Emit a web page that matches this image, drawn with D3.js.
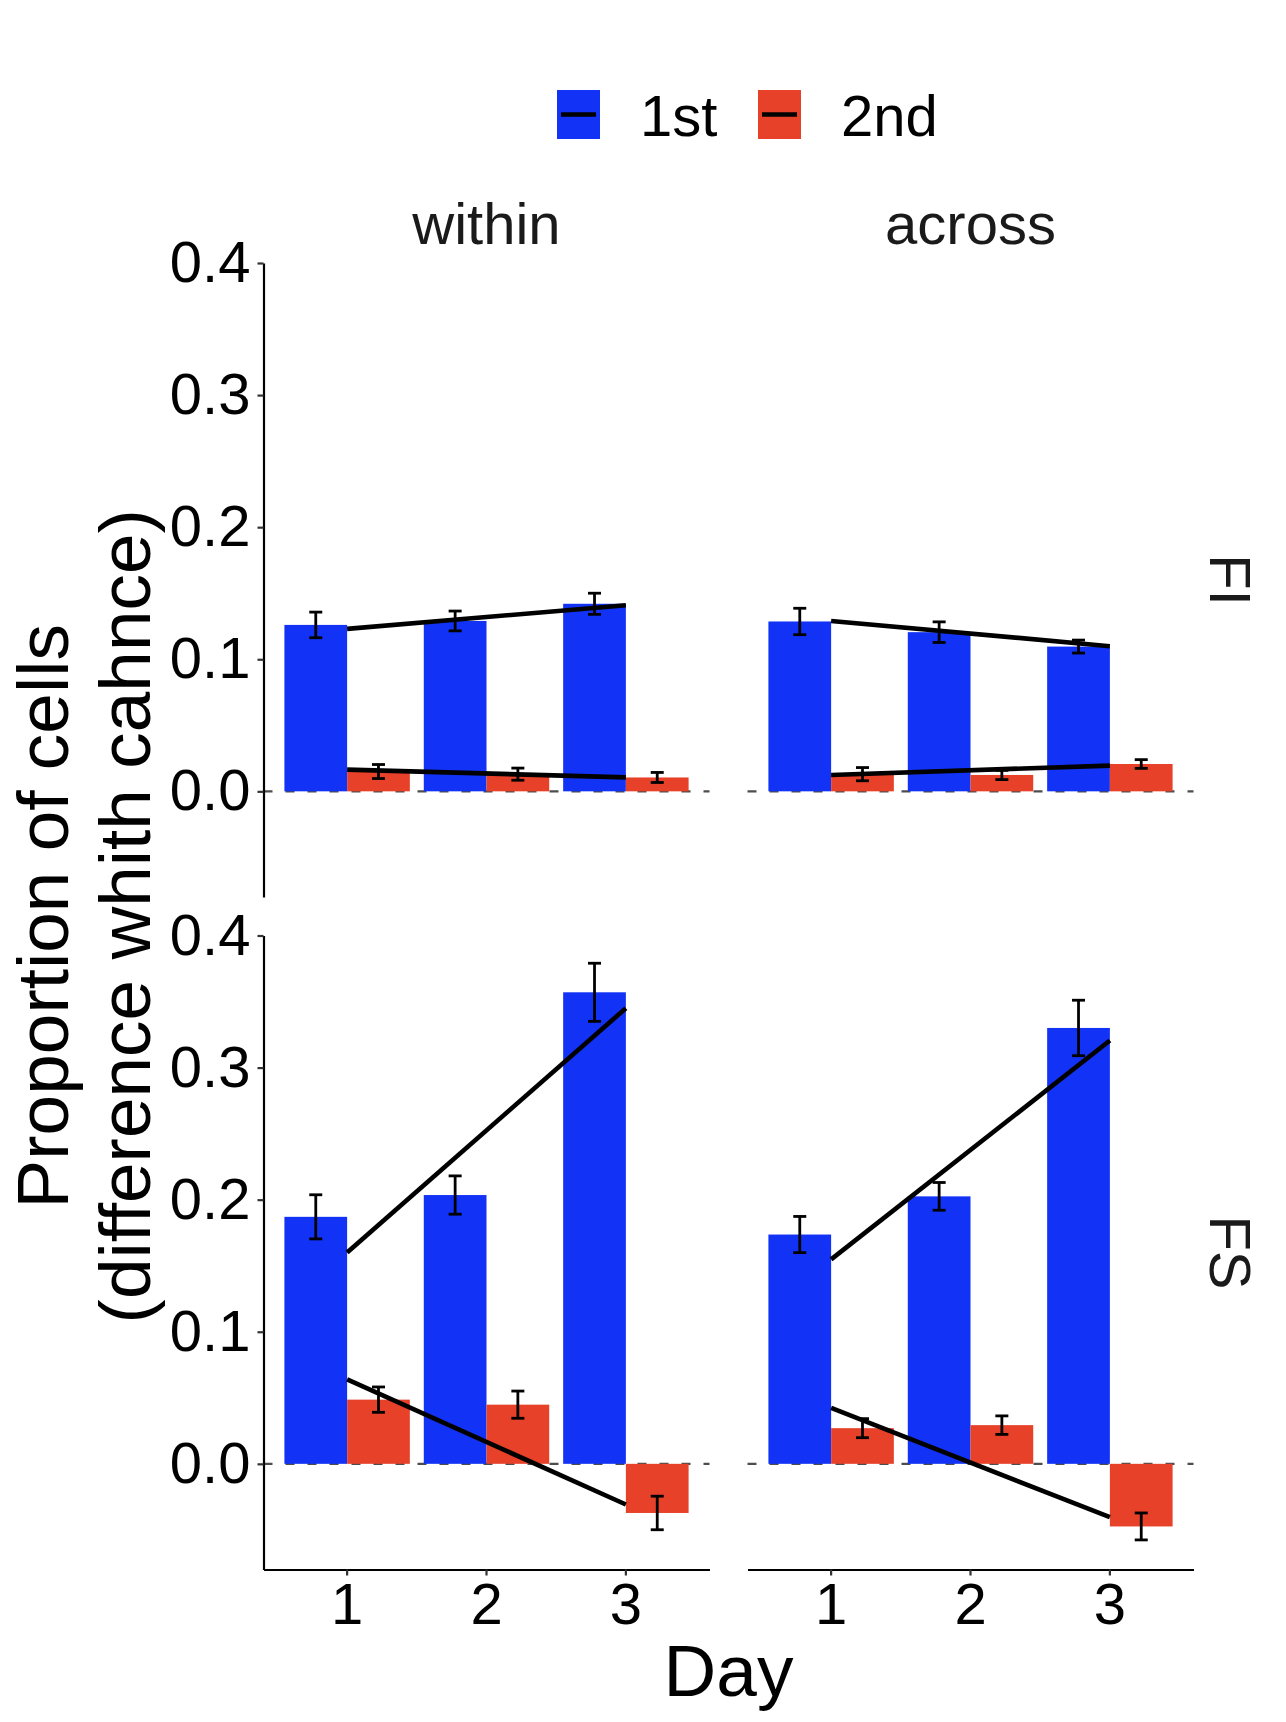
<!DOCTYPE html>
<html>
<head>
<meta charset="utf-8">
<script src="https://cdn.jsdelivr.net/npm/d3@7"></script>
<style>
  body { margin: 0; background: #fff; }
  svg text { font-family: "Liberation Sans", Arial, sans-serif; }
</style>
</head>
<body>
<svg width="1286" height="1722"></svg>
<script>
const days = [1, 2, 3];
const orders = ["1st", "2nd"];
const cols = ["within", "across"];
const rows = ["FI", "FS"];
const yTicks = [0, 0.1, 0.2, 0.3, 0.4];

// bar means and standard errors, per panel and order
const FI_within_1st = [0.126, 0.129, 0.142];
const FI_within_1st_se = [0.0097, 0.0075, 0.008];
const FI_within_2nd = [0.015, 0.013, 0.0105];
const FI_within_2nd_se = [0.0053, 0.0046, 0.0038];
const FI_across_1st = [0.1286, 0.1205, 0.1096];
const FI_across_1st_se = [0.010, 0.0078, 0.0049];
const FI_across_2nd = [0.013, 0.0124, 0.0207];
const FI_across_2nd_se = [0.005, 0.0035, 0.0033];
const FS_within_1st = [0.187, 0.2035, 0.357];
const FS_within_1st_se = [0.0167, 0.0145, 0.022];
const FS_within_2nd = [0.0486, 0.0448, -0.0372];
const FS_within_2nd_se = [0.0096, 0.0103, 0.0127];
const FS_across_1st = [0.1736, 0.2025, 0.33];
const FS_across_1st_se = [0.0137, 0.0105, 0.021];
const FS_across_2nd = [0.027, 0.0293, -0.0474];
const FS_across_2nd_se = [0.0072, 0.007, 0.0102];

// fitted trend, value at day 1 and day 3
const fit_FI_within_1st = [0.123, 0.1409];
const fit_FI_within_2nd = [0.0164, 0.0106];
const fit_FI_across_1st = [0.129, 0.1099];
const fit_FI_across_2nd = [0.0124, 0.0195];
const fit_FS_within_1st = [0.16, 0.345];
const fit_FS_within_2nd = [0.0639, -0.0308];
const fit_FS_across_1st = [0.1548, 0.3205];
const fit_FS_across_2nd = [0.0423, -0.0404];

const means = {
  FI: { within: { "1st": FI_within_1st, "2nd": FI_within_2nd }, across: { "1st": FI_across_1st, "2nd": FI_across_2nd } },
  FS: { within: { "1st": FS_within_1st, "2nd": FS_within_2nd }, across: { "1st": FS_across_1st, "2nd": FS_across_2nd } }
};
const ses = {
  FI: { within: { "1st": FI_within_1st_se, "2nd": FI_within_2nd_se }, across: { "1st": FI_across_1st_se, "2nd": FI_across_2nd_se } },
  FS: { within: { "1st": FS_within_1st_se, "2nd": FS_within_2nd_se }, across: { "1st": FS_across_1st_se, "2nd": FS_across_2nd_se } }
};
const fits = {
  FI: { within: { "1st": fit_FI_within_1st, "2nd": fit_FI_within_2nd }, across: { "1st": fit_FI_across_1st, "2nd": fit_FI_across_2nd } },
  FS: { within: { "1st": fit_FS_within_1st, "2nd": fit_FS_within_2nd }, across: { "1st": fit_FS_across_1st, "2nd": fit_FS_across_2nd } }
};

const color = { "1st": "#1233F6", "2nd": "#E8412A" };

const svg = d3.select("svg");
const panelW = 446, panelH = 634;
const colX = [263.5, 747.5];
const rowY = [263, 935.5];

const y = d3.scaleLinear().domain([-0.08, 0.4]);

rows.forEach((r, ri) => {
  cols.forEach((c, ci) => {
    const x0 = colX[ci], y0 = rowY[ri];
    const g = svg.append("g");
    const x = d3.scaleBand().domain(days).range([x0, x0 + panelW])
      .paddingInner(0.1).paddingOuter(0.15);
    const xo = d3.scaleBand().domain(orders).range([0, x.bandwidth()]);
    const yy = y.copy().range([y0 + panelH, y0]);

    const bars = [];
    orders.forEach(o => days.forEach((d, i) => {
      bars.push({ day: d, order: o, v: means[r][c][o][i], se: ses[r][c][o][i] });
    }));

    // dashed zero line
    g.append("line")
      .attr("x1", x0).attr("x2", x0 + panelW)
      .attr("y1", yy(0)).attr("y2", yy(0))
      .attr("stroke", "#4d4d4d").attr("stroke-width", 2.4)
      .attr("stroke-dasharray", "9,13");

    g.selectAll("rect.bar").data(bars).join("rect")
      .attr("class", "bar")
      .attr("x", d => x(d.day) + xo(d.order))
      .attr("width", xo.bandwidth())
      .attr("y", d => yy(Math.max(0, d.v)))
      .attr("height", d => Math.abs(yy(d.v) - yy(0)))
      .attr("fill", d => color[d.order]);

    const eb = g.selectAll("g.eb").data(bars).join("g").attr("class", "eb")
      .attr("stroke", "#000").attr("stroke-width", 2.8);
    const cx = d => x(d.day) + xo(d.order) + xo.bandwidth() / 2;
    eb.append("line")
      .attr("x1", cx).attr("x2", cx)
      .attr("y1", d => yy(d.v - d.se)).attr("y2", d => yy(d.v + d.se));
    eb.append("line")
      .attr("x1", d => cx(d) - 6.5).attr("x2", d => cx(d) + 6.5)
      .attr("y1", d => yy(d.v + d.se)).attr("y2", d => yy(d.v + d.se));
    eb.append("line")
      .attr("x1", d => cx(d) - 6.5).attr("x2", d => cx(d) + 6.5)
      .attr("y1", d => yy(d.v - d.se)).attr("y2", d => yy(d.v - d.se));

    // fitted lines from day 1 to day 3
    orders.forEach(o => {
      const f = fits[r][c][o];
      g.append("line")
        .attr("x1", x(1) + x.bandwidth() / 2).attr("x2", x(3) + x.bandwidth() / 2)
        .attr("y1", yy(f[0])).attr("y2", yy(f[1]))
        .attr("stroke", "#000").attr("stroke-width", 4.6);
    });

    // y axis only on first column
    if (ci === 0) {
      const ax = g.append("g").attr("transform", `translate(${x0},0)`)
        .call(d3.axisLeft(yy).tickValues(yTicks).tickFormat(d3.format(".1f"))
          .tickSizeInner(6).tickSizeOuter(0).tickPadding(7));
      ax.select(".domain").attr("stroke", "#000").attr("stroke-width", 2.2);
      ax.selectAll(".tick line").attr("stroke", "#333").attr("stroke-width", 2.2);
      ax.selectAll(".tick text").attr("font-size", 58).attr("fill", "#000");
    }
    // x axis only on bottom row
    if (ri === 1) {
      const ax = g.append("g").attr("transform", `translate(0,${y0 + panelH})`)
        .call(d3.axisBottom(x).tickSizeInner(6).tickSizeOuter(0).tickPadding(7));
      ax.select(".domain").attr("stroke", "#000").attr("stroke-width", 2.2);
      ax.selectAll(".tick line").attr("stroke", "#333").attr("stroke-width", 2.2);
      ax.selectAll(".tick text").attr("font-size", 58).attr("fill", "#000");
    }

    // strip labels
    if (ri === 0) {
      svg.append("text").attr("x", x0 + panelW / 2).attr("y", 244)
        .attr("text-anchor", "middle").attr("font-size", 58).attr("fill", "#1a1a1a")
        .text(c);
    }
    if (ci === 1) {
      svg.append("text")
        .attr("transform", `translate(1210,${y0 + panelH / 2}) rotate(90)`)
        .attr("text-anchor", "middle").attr("font-size", 58).attr("fill", "#1a1a1a")
        .text(r);
    }
  });
});

// axis titles
const midY = (rowY[0] + rowY[1] + panelH) / 2;
svg.append("text")
  .attr("transform", `translate(68,${midY}) rotate(-90)`)
  .attr("text-anchor", "middle").attr("font-size", 73).attr("fill", "#000")
  .text("Proportion of cells");
svg.append("text")
  .attr("transform", `translate(150,${midY}) rotate(-90)`)
  .attr("text-anchor", "middle").attr("font-size", 73).attr("fill", "#000")
  .text("(difference whith cahnce)");
svg.append("text")
  .attr("x", (colX[0] + colX[1] + panelW) / 2).attr("y", 1696)
  .attr("text-anchor", "middle").attr("font-size", 73).attr("fill", "#000")
  .text("Day");

// legend
const legX = [557, 758];
const leg = svg.append("g").selectAll("g").data(orders).join("g")
  .attr("transform", (d, i) => `translate(${legX[i]},90)`);
leg.append("rect").attr("width", 43).attr("height", 49).attr("fill", d => color[d]);
leg.append("line").attr("x1", 4).attr("x2", 39).attr("y1", 24.5).attr("y2", 24.5)
  .attr("stroke", "#000").attr("stroke-width", 4.6);
leg.append("text").attr("x", 83).attr("y", 46).attr("font-size", 58).attr("fill", "#000")
  .text(d => d);
</script>
</body>
</html>
